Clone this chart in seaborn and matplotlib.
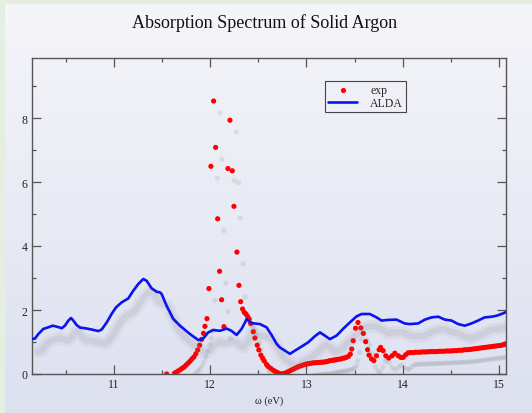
import numpy as np
import pandas as pd
import matplotlib
matplotlib.use("Agg")
import matplotlib.pyplot as plt
import matplotlib.patheffects as pe
import seaborn as sns

# ---------------- data ----------------
alda_x = [10.146, 10.18, 10.214, 10.266, 10.318, 10.363, 10.405, 10.457, 10.49, 10.526,
          10.554, 10.577, 10.612, 10.647, 10.699, 10.768, 10.837, 10.872, 10.924, 10.976,
          11.02, 11.08, 11.148, 11.2, 11.252, 11.304, 11.34, 11.39, 11.443, 11.478,
          11.495, 11.547, 11.616, 11.685, 11.789, 11.876, 11.927, 11.979, 12.031, 12.10,
          12.17, 12.22, 12.274, 12.326, 12.378, 12.43, 12.516, 12.585, 12.637, 12.69,
          12.724, 12.776, 12.828, 12.88, 12.95, 13.018, 13.087, 13.14, 13.19, 13.243,
          13.313, 13.38, 13.45, 13.52, 13.572, 13.658, 13.727, 13.78, 13.848, 13.935,
          14.02, 14.074, 14.16, 14.23, 14.30, 14.37, 14.437, 14.507, 14.576, 14.645,
          14.714, 14.783, 14.852, 14.922, 14.974, 15.026, 15.07]
alda_y = [1.09, 1.11, 1.25, 1.41, 1.46, 1.51, 1.48, 1.43, 1.51, 1.67,
          1.75, 1.67, 1.53, 1.45, 1.43, 1.39, 1.34, 1.39, 1.61, 1.88,
          2.08, 2.24, 2.36, 2.60, 2.81, 2.97, 2.91, 2.68, 2.57, 2.55,
          2.50, 2.13, 1.72, 1.51, 1.25, 1.06, 1.11, 1.30, 1.375, 1.35,
          1.42, 1.35, 1.22, 1.41, 1.71, 1.59, 1.56, 1.46, 1.22, 0.94,
          0.83, 0.73, 0.63, 0.73, 0.86, 0.99, 1.18, 1.30, 1.20, 1.09,
          1.20, 1.41, 1.61, 1.80, 1.875, 1.875, 1.77, 1.67, 1.69, 1.70,
          1.58, 1.56, 1.58, 1.70, 1.77, 1.79, 1.70, 1.67, 1.56, 1.51,
          1.58, 1.67, 1.77, 1.79, 1.82, 1.875, 1.93]

exp_x = [11.547, 11.63, 11.65, 11.67, 11.69, 11.71, 11.73, 11.75, 11.77, 11.79,
         11.81, 11.83, 11.85, 11.87, 11.89, 11.91, 11.93, 11.945, 11.966, 11.986,
         12.007, 12.035, 12.056, 12.077, 12.097, 12.118, 12.142, 12.184, 12.205, 12.229,
         12.246, 12.277, 12.298, 12.316, 12.336, 12.353, 12.37, 12.388, 12.405, 12.42,
         12.447, 12.464, 12.488, 12.505, 12.526, 12.544, 12.56, 12.585, 12.60, 12.627,
         12.654, 12.675, 12.695, 12.715, 12.735, 12.755, 12.775, 12.795, 12.815, 12.835,
         12.855, 12.875, 12.895, 12.915, 12.935, 12.955, 12.975, 12.995, 13.015, 13.035,
         13.055, 13.075, 13.095, 13.115, 13.135, 13.155, 13.175, 13.195, 13.215, 13.235,
         13.255, 13.275, 13.295, 13.315, 13.335, 13.355, 13.375, 13.395, 13.415, 13.435,
         13.455, 13.47, 13.485, 13.51, 13.535, 13.565, 13.59, 13.615, 13.635, 13.65,
         13.676, 13.70, 13.727, 13.755, 13.77, 13.796, 13.824, 13.855, 13.89, 13.918,
         13.953, 13.98, 14.005, 14.03, 14.056, 14.08, 14.105, 14.13, 14.155, 14.18,
         14.205, 14.23, 14.255, 14.28, 14.305, 14.33, 14.355, 14.38, 14.405, 14.43,
         14.455, 14.48, 14.505, 14.53, 14.555, 14.58, 14.605, 14.63, 14.655, 14.68,
         14.705, 14.73, 14.755, 14.78, 14.805, 14.83, 14.855, 14.88, 14.905, 14.93,
         14.955, 14.98, 15.005, 15.03, 15.055, 15.07]
exp_y = [0.00, 0.03, 0.06, 0.10, 0.14, 0.18, 0.22, 0.28, 0.34, 0.40,
         0.47, 0.53, 0.63, 0.75, 0.90, 1.08, 1.27, 1.49, 1.73, 2.67,
         6.49, 8.53, 7.08, 4.85, 3.21, 2.32, 1.48, 6.42, 7.93, 6.35,
         5.24, 3.81, 2.77, 2.26, 2.03, 1.93, 1.875, 1.80, 1.72, 1.58,
         1.32, 1.125, 0.90, 0.75, 0.59, 0.49, 0.41, 0.30, 0.24, 0.18,
         0.12, 0.08, 0.05, 0.02, 0.00, 0.01, 0.02, 0.05, 0.08, 0.11,
         0.14, 0.17, 0.20, 0.23, 0.25, 0.27, 0.29, 0.31, 0.32, 0.33,
         0.34, 0.35, 0.35, 0.36, 0.36, 0.37, 0.37, 0.38, 0.39, 0.41,
         0.42, 0.43, 0.44, 0.45, 0.46, 0.47, 0.49, 0.50, 0.52, 0.55,
         0.62, 0.78, 1.04, 1.43, 1.61, 1.44, 1.27, 1.01, 0.76, 0.59,
         0.47, 0.42, 0.57, 0.76, 0.83, 0.73, 0.57, 0.50, 0.57, 0.65,
         0.57, 0.52, 0.52, 0.60, 0.66, 0.67, 0.67, 0.68, 0.68, 0.68,
         0.69, 0.69, 0.69, 0.70, 0.70, 0.70, 0.70, 0.71, 0.71, 0.71,
         0.72, 0.72, 0.72, 0.73, 0.73, 0.74, 0.74, 0.75, 0.76, 0.76,
         0.77, 0.78, 0.79, 0.80, 0.81, 0.82, 0.83, 0.84, 0.85, 0.86,
         0.87, 0.88, 0.89, 0.90, 0.92, 0.94]

x_ticks = [11, 12, 13, 14, 15]
y_ticks = [0, 2, 4, 6, 8]
title = "Absorption Spectrum of Solid Argon"
xlabel = "ω (eV)"

# ---------------- style ----------------
sns.set_style("ticks")
plt.rcParams["font.family"] = ["Liberation Serif", "DejaVu Serif"]

W, H = 532, 414
fig = plt.figure(figsize=(W / 100, H / 100), dpi=100)
fig.patch.set_facecolor("#e4efe2")

# background panel with gradient
bg = fig.add_axes([5 / W, 0, (W - 5) / W, (H - 5) / H], zorder=0)
grad = np.linspace(0, 1, 256)[:, None]
top = np.array([0.962, 0.964, 0.978])
bot = np.array([0.865, 0.878, 0.940])
img = top[None, None, :] * (1 - grad[..., None]) + bot[None, None, :] * grad[..., None]
img = np.repeat(img, 4, axis=1)
bg.imshow(img, aspect="auto", extent=[0, 1, 0, 1], interpolation="bilinear")
bg.set_axis_off()

ax = fig.add_axes([32 / W, 39 / H, 474 / W, 316 / H], zorder=1)
ax.set_facecolor("none")

df_alda = pd.DataFrame({"x": alda_x, "y": alda_y})
df_exp = pd.DataFrame({"x": exp_x, "y": exp_y})

sns.scatterplot(data=df_exp, x="x", y="y", ax=ax, color="#ff0000", s=14,
                linewidth=0, label="exp", zorder=3)
sns.lineplot(data=df_alda, x="x", y="y", ax=ax, color="#0a14f0", linewidth=1.9,
             label="ALDA", sort=False, zorder=4)

ax.set_xlim(10.148, 15.073)
ax.set_ylim(0, 9.875)
ax.set_xticks(x_ticks)
ax.set_yticks(y_ticks)
ax.set_xticks(np.arange(10.5, 15.1, 0.5), minor=True)
ax.set_yticks(np.arange(1, 9.9, 1), minor=True)
ax.set_xticklabels([str(t) for t in x_ticks])
ax.set_yticklabels([str(t) for t in y_ticks])
ax.tick_params(which="both", direction="in", top=True, right=True, color="#555555",
               labelsize=8.5, labelcolor="#222222", width=0.9)
ax.tick_params(which="major", length=6.3, pad=3)
ax.tick_params(which="minor", length=3)
for s in ax.spines.values():
    s.set_color("#555555")
    s.set_linewidth(1.0)
    s.set_visible(True)

ax.set_xlabel(xlabel, fontsize=7.5, color="#222222", labelpad=4)
ax.set_ylabel("")

fig.text(265 / W, 1 - 23 / H, title, ha="center", va="center", fontsize=13, color="#111111")

leg = ax.legend(loc="upper left", bbox_to_anchor=(0.618, 0.927), fontsize=8.5,
                frameon=True, fancybox=False, framealpha=1, edgecolor="#444444",
                handlelength=2.5, handletextpad=1.1, borderpad=0.25, labelspacing=0.1,
                borderaxespad=0)
leg.get_frame().set_facecolor("none")
leg.get_frame().set_edgecolor("#444444")
leg.get_frame().set_linewidth(0.8)

# blurred drop shadows (data marks only, added after legend creation)
shadow_line = [pe.SimpleLineShadow(offset=(4.5, -9), shadow_color="#7a7a80", alpha=0.08, linewidth=9),
               pe.SimpleLineShadow(offset=(4.5, -9), shadow_color="#7a7a80", alpha=0.12, linewidth=4.5),
               pe.Normal()]
ax.lines[0].set_path_effects(shadow_line)
ax.lines[0].set_solid_joinstyle("round")
ax.lines[0].set_solid_capstyle("round")

shadow_pts = [pe.SimplePatchShadow(offset=(4.5, -8.5), shadow_rgbFace="#7a7a80", alpha=0.16),
              pe.Normal()]
ax.collections[0].set_path_effects(shadow_pts)

fig.savefig("out.png", dpi=100, facecolor=fig.get_facecolor())
